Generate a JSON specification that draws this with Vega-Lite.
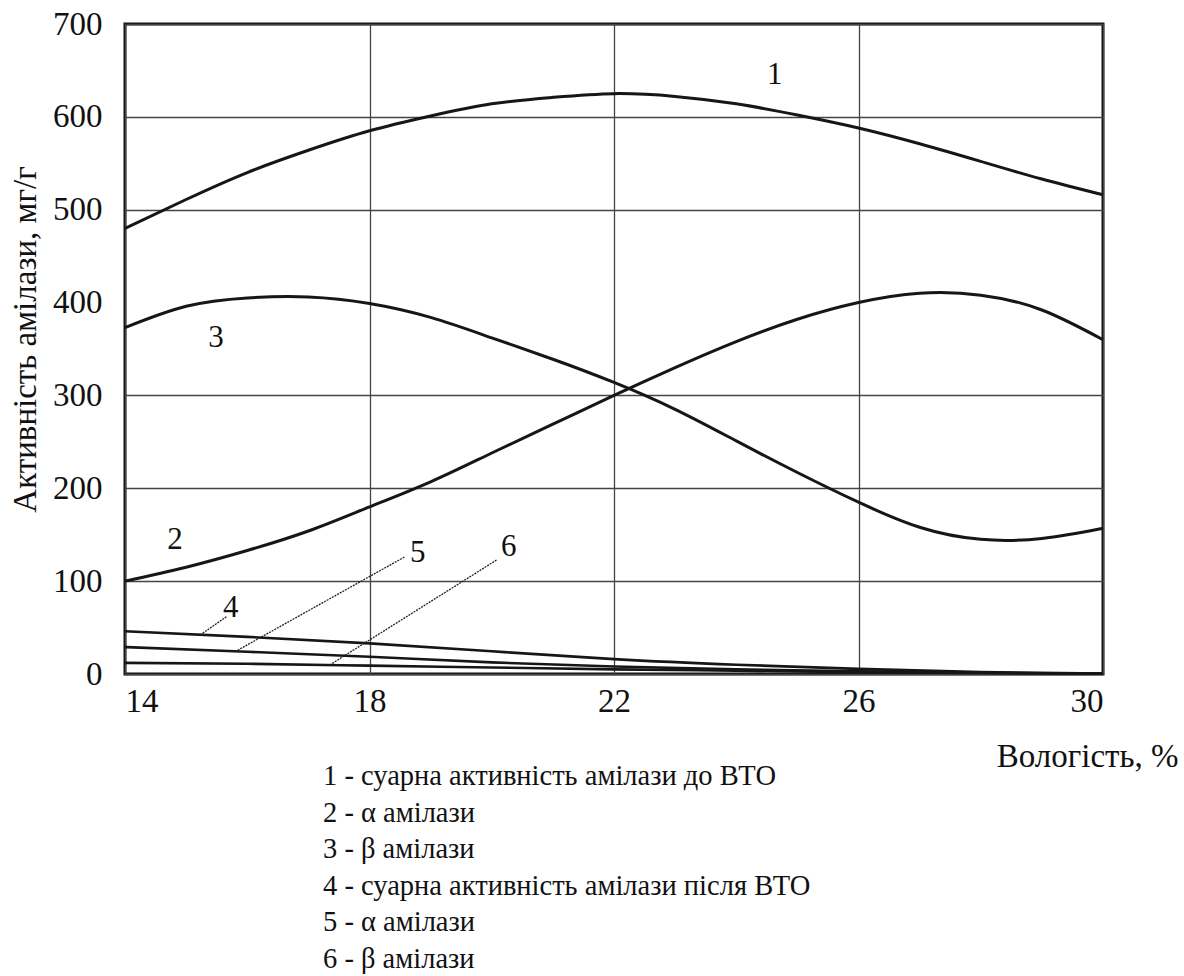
{
  "$schema": "https://vega.github.io/schema/vega-lite/v6.json",
  "width": 978,
  "height": 650,
  "autosize": {"type": "none"},
  "padding": {"left": 125, "top": 24, "right": 81, "bottom": 302},
  "background": "white",
  "title": {
    "text": [
      "1 - суарна активність амілази до ВТО",
      "2 - α амілази",
      "3 - β амілази",
      "4 - суарна активність амілази після ВТО",
      "5 - α амілази",
      "6 - β амілази"
    ],
    "orient": "bottom",
    "anchor": "start",
    "frame": "group",
    "align": "left",
    "dx": 198,
    "offset": -11,
    "font": "Liberation Serif, DejaVu Serif, serif",
    "fontSize": 28.5,
    "fontWeight": "normal",
    "lineHeight": 36.6,
    "color": "#111"
  },
  "config": {
    "font": "Liberation Serif, DejaVu Serif, serif",
    "view": {"stroke": "#111", "strokeWidth": 3},
    "axis": {
      "domain": false,
      "ticks": false,
      "labelFont": "Liberation Serif, DejaVu Serif, serif",
      "labelFontSize": 33,
      "labelColor": "#111",
      "titleFont": "Liberation Serif, DejaVu Serif, serif",
      "titleFontSize": 33,
      "titleFontWeight": "normal",
      "titleColor": "#111",
      "gridColor": "#444",
      "gridWidth": 1.3
    }
  },
  "datasets": {
    "curves": [
      {"x": 14, "y": 480, "curve": "1"}, {"x": 15, "y": 511, "curve": "1"}, {"x": 16, "y": 540, "curve": "1"},
      {"x": 17, "y": 564, "curve": "1"}, {"x": 18, "y": 585, "curve": "1"}, {"x": 19, "y": 601, "curve": "1"},
      {"x": 20, "y": 614, "curve": "1"}, {"x": 21, "y": 621, "curve": "1"}, {"x": 22, "y": 625, "curve": "1"},
      {"x": 23, "y": 622, "curve": "1"}, {"x": 24, "y": 614, "curve": "1"}, {"x": 25, "y": 602, "curve": "1"},
      {"x": 26, "y": 588, "curve": "1"}, {"x": 27, "y": 571, "curve": "1"}, {"x": 28, "y": 552, "curve": "1"},
      {"x": 29, "y": 533, "curve": "1"}, {"x": 30, "y": 516, "curve": "1"},

      {"x": 14, "y": 100, "curve": "2"}, {"x": 15, "y": 115, "curve": "2"}, {"x": 16, "y": 133, "curve": "2"},
      {"x": 17, "y": 154, "curve": "2"}, {"x": 18, "y": 180, "curve": "2"}, {"x": 19, "y": 207, "curve": "2"},
      {"x": 20, "y": 238, "curve": "2"}, {"x": 21, "y": 269, "curve": "2"}, {"x": 22, "y": 300, "curve": "2"},
      {"x": 23, "y": 330, "curve": "2"}, {"x": 24, "y": 358, "curve": "2"}, {"x": 25, "y": 382, "curve": "2"},
      {"x": 26, "y": 400, "curve": "2"}, {"x": 27, "y": 410, "curve": "2"}, {"x": 28, "y": 408, "curve": "2"},
      {"x": 29, "y": 392, "curve": "2"}, {"x": 30, "y": 360, "curve": "2"},

      {"x": 14, "y": 373, "curve": "3"}, {"x": 15, "y": 396, "curve": "3"}, {"x": 16, "y": 405, "curve": "3"},
      {"x": 17, "y": 406, "curve": "3"}, {"x": 18, "y": 399, "curve": "3"}, {"x": 19, "y": 384, "curve": "3"},
      {"x": 20, "y": 362, "curve": "3"}, {"x": 21, "y": 339, "curve": "3"}, {"x": 22, "y": 314, "curve": "3"},
      {"x": 23, "y": 285, "curve": "3"}, {"x": 24, "y": 251, "curve": "3"}, {"x": 25, "y": 217, "curve": "3"},
      {"x": 26, "y": 185, "curve": "3"}, {"x": 27, "y": 158, "curve": "3"}, {"x": 28, "y": 145, "curve": "3"},
      {"x": 29, "y": 146, "curve": "3"}, {"x": 30, "y": 157, "curve": "3"},

      {"x": 14, "y": 46, "curve": "4"}, {"x": 16, "y": 40, "curve": "4"}, {"x": 18, "y": 33, "curve": "4"},
      {"x": 20, "y": 24.5, "curve": "4"}, {"x": 22, "y": 16, "curve": "4"}, {"x": 24, "y": 10, "curve": "4"},
      {"x": 26, "y": 5.5, "curve": "4"}, {"x": 28, "y": 2, "curve": "4"}, {"x": 30, "y": 0.5, "curve": "4"},

      {"x": 14, "y": 29, "curve": "5"}, {"x": 16, "y": 24, "curve": "5"}, {"x": 18, "y": 18.5, "curve": "5"},
      {"x": 20, "y": 12.5, "curve": "5"}, {"x": 22, "y": 8, "curve": "5"}, {"x": 24, "y": 5, "curve": "5"},
      {"x": 26, "y": 3, "curve": "5"}, {"x": 28, "y": 1.5, "curve": "5"}, {"x": 30, "y": 0.3, "curve": "5"},

      {"x": 14, "y": 12, "curve": "6"}, {"x": 16, "y": 11, "curve": "6"}, {"x": 18, "y": 9, "curve": "6"},
      {"x": 20, "y": 7, "curve": "6"}, {"x": 22, "y": 5, "curve": "6"}, {"x": 24, "y": 3.5, "curve": "6"},
      {"x": 26, "y": 2, "curve": "6"}, {"x": 28, "y": 1, "curve": "6"}, {"x": 30, "y": 0.2, "curve": "6"}
    ],
    "leaders": [
      {"n": "4", "x": 15.23, "y": 42, "x2": 15.66, "y2": 61.7},
      {"n": "5", "x": 15.8, "y": 24, "x2": 18.58, "y2": 126.3},
      {"n": "6", "x": 17.35, "y": 9.7, "x2": 20.08, "y2": 122.8}
    ],
    "labels": [
      {"n": "1", "x": 24.63, "y": 645},
      {"n": "2", "x": 14.82, "y": 144},
      {"n": "3", "x": 15.49, "y": 362},
      {"n": "4", "x": 15.73, "y": 71},
      {"n": "5", "x": 18.79, "y": 130},
      {"n": "6", "x": 20.28, "y": 137}
    ]
  },
  "layer": [
    {
      "data": {"name": "curves"},
      "transform": [{"filter": "datum.curve <= '3'"}],
      "mark": {"type": "line", "interpolate": "natural", "color": "#161616", "strokeWidth": 3},
      "encoding": {
        "x": {
          "field": "x", "type": "quantitative",
          "scale": {"domain": [14, 30], "nice": false, "zero": false},
          "axis": {
            "values": [14, 18, 22, 26, 30],
            "format": "d",
            "grid": true,
            "labelPadding": 11,
            "title": "Вологість, %",
            "titleAnchor": null,
            "titleAlign": "right",
            "titleBaseline": "alphabetic",
            "titleX": 1053,
            "titleY": 92
          }
        },
        "y": {
          "field": "y", "type": "quantitative",
          "scale": {"domain": [0, 700], "nice": false},
          "axis": {
            "values": [0, 100, 200, 300, 400, 500, 600, 700],
            "format": "d",
            "grid": true,
            "gridOpacity": {"condition": {"test": "datum.value === 400", "value": 0}, "value": 1},
            "labelPadding": 23,
            "title": "Активність амілази, мг/г",
            "titleAngle": -90,
            "titleAnchor": null,
            "titleAlign": "center",
            "titleBaseline": "alphabetic",
            "titleX": -90,
            "titleY": 315
          }
        },
        "detail": {"field": "curve", "type": "nominal"}
      }
    },
    {
      "data": {"name": "curves"},
      "transform": [{"filter": "datum.curve >= '4'"}],
      "mark": {"type": "line", "interpolate": "natural", "color": "#161616", "strokeWidth": 2.6},
      "encoding": {
        "x": {"field": "x", "type": "quantitative"},
        "y": {"field": "y", "type": "quantitative"},
        "detail": {"field": "curve", "type": "nominal"}
      }
    },
    {
      "data": {"name": "leaders"},
      "mark": {"type": "rule", "color": "#222", "strokeWidth": 1.3, "strokeDash": [2, 1]},
      "encoding": {
        "x": {"field": "x", "type": "quantitative"},
        "y": {"field": "y", "type": "quantitative"},
        "x2": {"field": "x2"},
        "y2": {"field": "y2"}
      }
    },
    {
      "data": {"name": "labels"},
      "mark": {"type": "text", "font": "Liberation Serif, DejaVu Serif, serif", "fontSize": 31, "color": "#111", "align": "center", "baseline": "middle"},
      "encoding": {
        "x": {"field": "x", "type": "quantitative"},
        "y": {"field": "y", "type": "quantitative"},
        "text": {"field": "n"}
      }
    }
  ]
}
